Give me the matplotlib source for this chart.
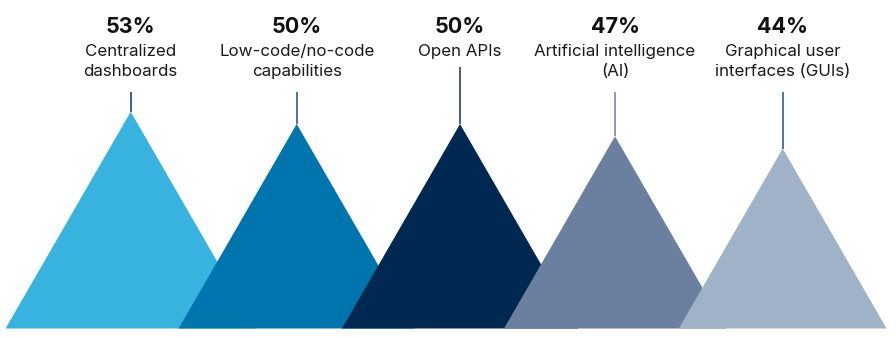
import matplotlib
matplotlib.use("Agg")
import matplotlib.pyplot as plt
from matplotlib.patches import Polygon
import numpy as np

# Survey results: share of respondents per capability
categories = [
    "Centralized\ndashboards",
    "Low-code/no-code\ncapabilities",
    "Open APIs",
    "Artificial intelligence\n(AI)",
    "Graphical user\ninterfaces (GUIs)",
]
values = [53, 50, 50, 47, 44]
value_labels = ["53%", "50%", "50%", "47%", "44%"]

# Layout (figure pixels) and styling
peak_x = [130.7, 296.7, 460.0, 615.0, 782.7]
fill_colors = ["#38B3E0", "#0074AC", "#002851", "#6B7F9E", "#A0B2C8"]
stem_colors = ["#0F3463", "#1D4F86", "#0F3463", "#6B7F9E", "#1D4F86"]

W, H = 896, 338
BASE_PX = 328.5          # pixel row of the triangle bases
PX_PER_PCT = 4.09        # vertical pixels per percentage point

plt.rcParams["font.family"] = ["Inter", "DejaVu Sans"]

fig = plt.figure(figsize=(W / 100, H / 100), dpi=100)
ax = fig.add_axes([0, 0, 1, 1])
ax.set_xlim(0, W)
ax.set_ylim(-(H - BASE_PX) / PX_PER_PCT, BASE_PX / PX_PER_PCT)
ax.axis("off")


def y_from_px(py):
    """Convert a pixel row (from the top) into data units."""
    return (BASE_PX - py) / PX_PER_PCT


# Equilateral triangles: height tracks the value, width follows from the 60° sides
half_w_per_pct = PX_PER_PCT / np.sqrt(3)
for i, (cx, v) in enumerate(zip(peak_x, values)):
    hw = v * half_w_per_pct
    tri = Polygon([(cx - hw, 0), (cx, v), (cx + hw, 0)], closed=True,
                  facecolor=fill_colors[i], edgecolor="none", zorder=2 + i)
    ax.add_patch(tri)

    lines = categories[i].split("\n")
    stem_top = y_from_px(92 if len(lines) == 2 else 67)
    ax.plot([cx, cx], [v, stem_top], color=stem_colors[i], lw=1.1,
            solid_capstyle="butt", zorder=10)

    ax.text(cx, y_from_px(33), value_labels[i], ha="center", va="baseline",
            fontsize=15.5, fontweight="bold", color="#111111")
    for k, line in enumerate(lines):
        ax.text(cx, y_from_px(56 + 20 * k), line, ha="center", va="baseline",
                fontsize=12.2, color="#1A1A1A")

fig.savefig("out.png", dpi=100)
